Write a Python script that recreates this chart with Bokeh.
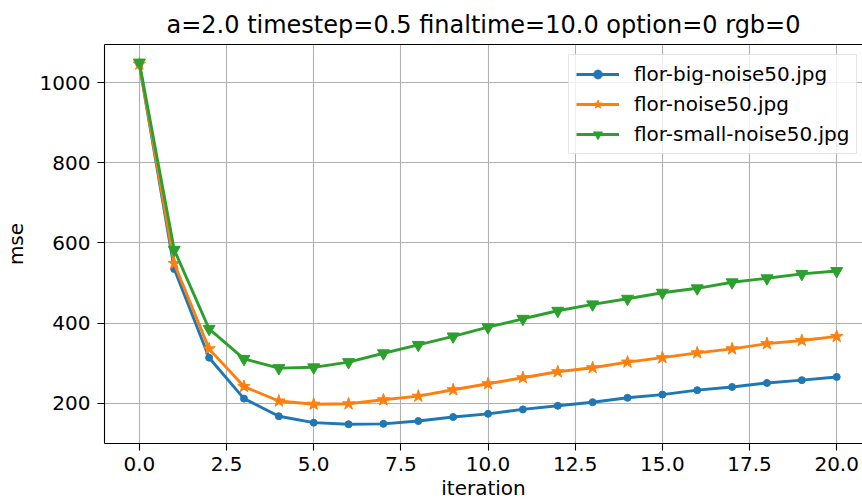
from bokeh.plotting import figure
from bokeh.models import FixedTicker, LinearAxis, Range1d, Legend, LegendItem, CustomJSTickFormatter
from bokeh.embed import file_html
from bokeh.resources import INLINE

# ---- data ----
iterations = list(range(21))
big_noise = [1045, 535, 314, 212, 168, 152, 148, 149, 156, 166, 174, 185, 194, 203, 214, 222, 233, 241, 251, 258, 266]
noise = [1046, 549, 336, 242, 206, 198, 199, 209, 218, 234, 249, 264, 279, 289, 303, 314, 326, 336, 349, 357, 367]
small_noise = [1050, 583, 386, 311, 288, 290, 303, 325, 346, 367, 390, 411, 431, 447, 461, 476, 487, 502, 512, 523, 530]
labels = ["flor-big-noise50.jpg", "flor-noise50.jpg", "flor-small-noise50.jpg"]
x_ticks = [0.0, 2.5, 5.0, 7.5, 10.0, 12.5, 15.0, 17.5, 20.0]
y_ticks = [200, 400, 600, 800, 1000]
title_text = "a=2.0 timestep=0.5 finaltime=10.0 option=0 rgb=0"

colors = ["#1f77b4", "#ff7f0e", "#2ca02c"]
FONT = "DejaVu Sans"

p = figure(width=862, height=504, output_backend="svg", toolbar_location=None,
           x_range=Range1d(-1.0, 20.74), y_range=Range1d(100, 1095),
           min_border_left=103, min_border_right=0, min_border_top=44, min_border_bottom=61)

p.outline_line_color = None
p.background_fill_color = "white"
p.border_fill_color = "white"

p.title.text = title_text
p.title.text_font = FONT
p.title.text_font_size = "24px"
p.title.text_font_style = "normal"
p.title.align = "center"
p.title.standoff = 11
p.title.text_color = "black"

for ax in (p.xaxis[0], p.yaxis[0]):
    ax.major_label_text_font = FONT
    ax.major_label_text_font_size = "20px"
    ax.major_label_text_color = "black"
    ax.axis_label_text_font = FONT
    ax.axis_label_text_font_size = "20px"
    ax.axis_label_text_font_style = "normal"
    ax.axis_label_text_color = "black"
    ax.axis_line_width = 1.1
    ax.axis_line_color = "black"
    ax.major_tick_line_color = "black"
    ax.major_tick_line_width = 1.1
    ax.major_tick_out = 7
    ax.major_tick_in = 0
    ax.minor_tick_line_color = None
    ax.major_label_standoff = 7

p.xaxis[0].ticker = FixedTicker(ticks=x_ticks)
p.xaxis[0].formatter = CustomJSTickFormatter(code="return tick.toFixed(1);")
p.xaxis[0].axis_label = "iteration"
p.xaxis[0].major_label_standoff = 6
p.xaxis[0].axis_label_standoff = 2
p.yaxis[0].ticker = FixedTicker(ticks=y_ticks)
p.yaxis[0].axis_label = "mse"
p.yaxis[0].axis_label_standoff = 9

top_axis = LinearAxis(ticker=FixedTicker(ticks=[]), major_tick_out=0, major_tick_in=0,
                      minor_tick_line_color=None, major_label_text_font_size="0px",
                      axis_line_color="black", axis_line_width=1.1, major_label_standoff=0)
p.add_layout(top_axis, "above")

p.xgrid.grid_line_color = "#b0b0b0"
p.ygrid.grid_line_color = "#b0b0b0"
p.xgrid.grid_line_width = 1.1
p.ygrid.grid_line_width = 1.1

series = [big_noise, noise, small_noise]
markers = ["circle", "star", "inverted_triangle"]
sizes = [7, 13, 12]
items = []
for ys, c, m, s, lab in zip(series, colors, markers, sizes, labels):
    r1 = p.line(iterations, ys, line_color=c, line_width=2.9)
    r2 = p.scatter(iterations, ys, marker=m, size=s, fill_color=c, line_color=c, line_width=1)
    items.append(LegendItem(label=lab, renderers=[r1, r2]))

legend = Legend(items=items, location=(464, 289), margin=0)
legend.label_text_font = FONT
legend.label_text_font_size = "20px"
legend.label_text_color = "black"
legend.glyph_width = 43
legend.glyph_height = 22
legend.label_height = 22
legend.label_standoff = 15
legend.spacing = 6
legend.padding = 7
legend.border_line_color = "#cccccc"
legend.border_line_width = 1.1
legend.background_fill_alpha = 0.8
p.add_layout(legend, "center")

open("out.html", "w").write(file_html(p, INLINE))
